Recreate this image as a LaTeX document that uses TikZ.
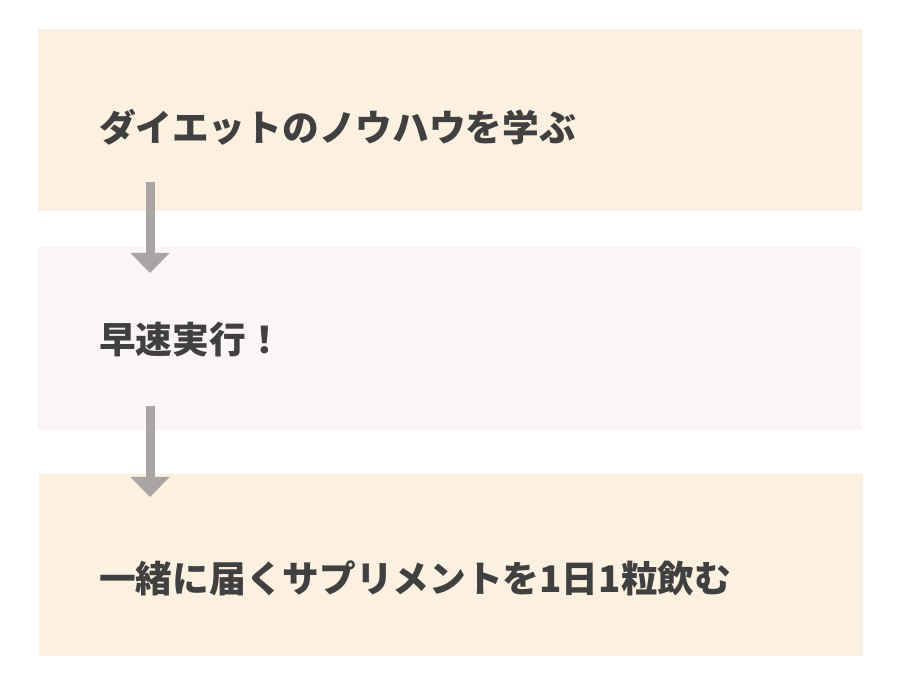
\documentclass[tikz,border=0pt]{standalone}
\usepackage{fontspec}
\setmainfont{Noto Sans CJK JP}
\usetikzlibrary{arrows.meta,positioning,calc}

\definecolor{peach}{HTML}{FCF0E0}
\definecolor{blush}{HTML}{FBF6F5}
\definecolor{arrowgray}{HTML}{ABA4A4}
\definecolor{textgray}{HTML}{404040}

\begin{document}
\begin{tikzpicture}[x=1pt, y=1pt,
    stepbox/.style={rectangle, inner sep=0pt, minimum width=824pt, minimum height=182pt},
    steptext/.style={anchor=west, inner sep=0pt, text=textgray, font=\fontsize{36.7}{40}\selectfont\bfseries},
    flow/.style={arrowgray, line width=9pt, -{Triangle[length=20pt, width=38pt]}}]
          % Define canvas
          \useasboundingbox (0,0) rectangle (900,691);

          % Draw boxes
          \node[stepbox, fill=peach] (box1) at (450,571) {};
          \node[stepbox, fill=blush, minimum height=183pt] (box2) at (449,352.5) {};
          \node[stepbox, fill=peach] (box3) at (451,126) {};

          % Label boxes
          \node[steptext] (learn) at (99,564) {ダイエットのノウハウを学ぶ};
          \node[steptext] (act) at (99,351) {早速実行！};
          \node[steptext] (supp) at (99,113) {一緒に届くサプリメントを1日1粒飲む};

          % Define arrow ends
          \coordinate (A1) at (150,509);
          \coordinate (B1) at (150,418);
          \coordinate (A2) at (150,285);
          \coordinate (B2) at (150,194);

          % Draw arrows
          \draw[flow] (A1) -- (B1);
          \draw[flow] (A2) -- (B2);
\end{tikzpicture}
\end{document}
